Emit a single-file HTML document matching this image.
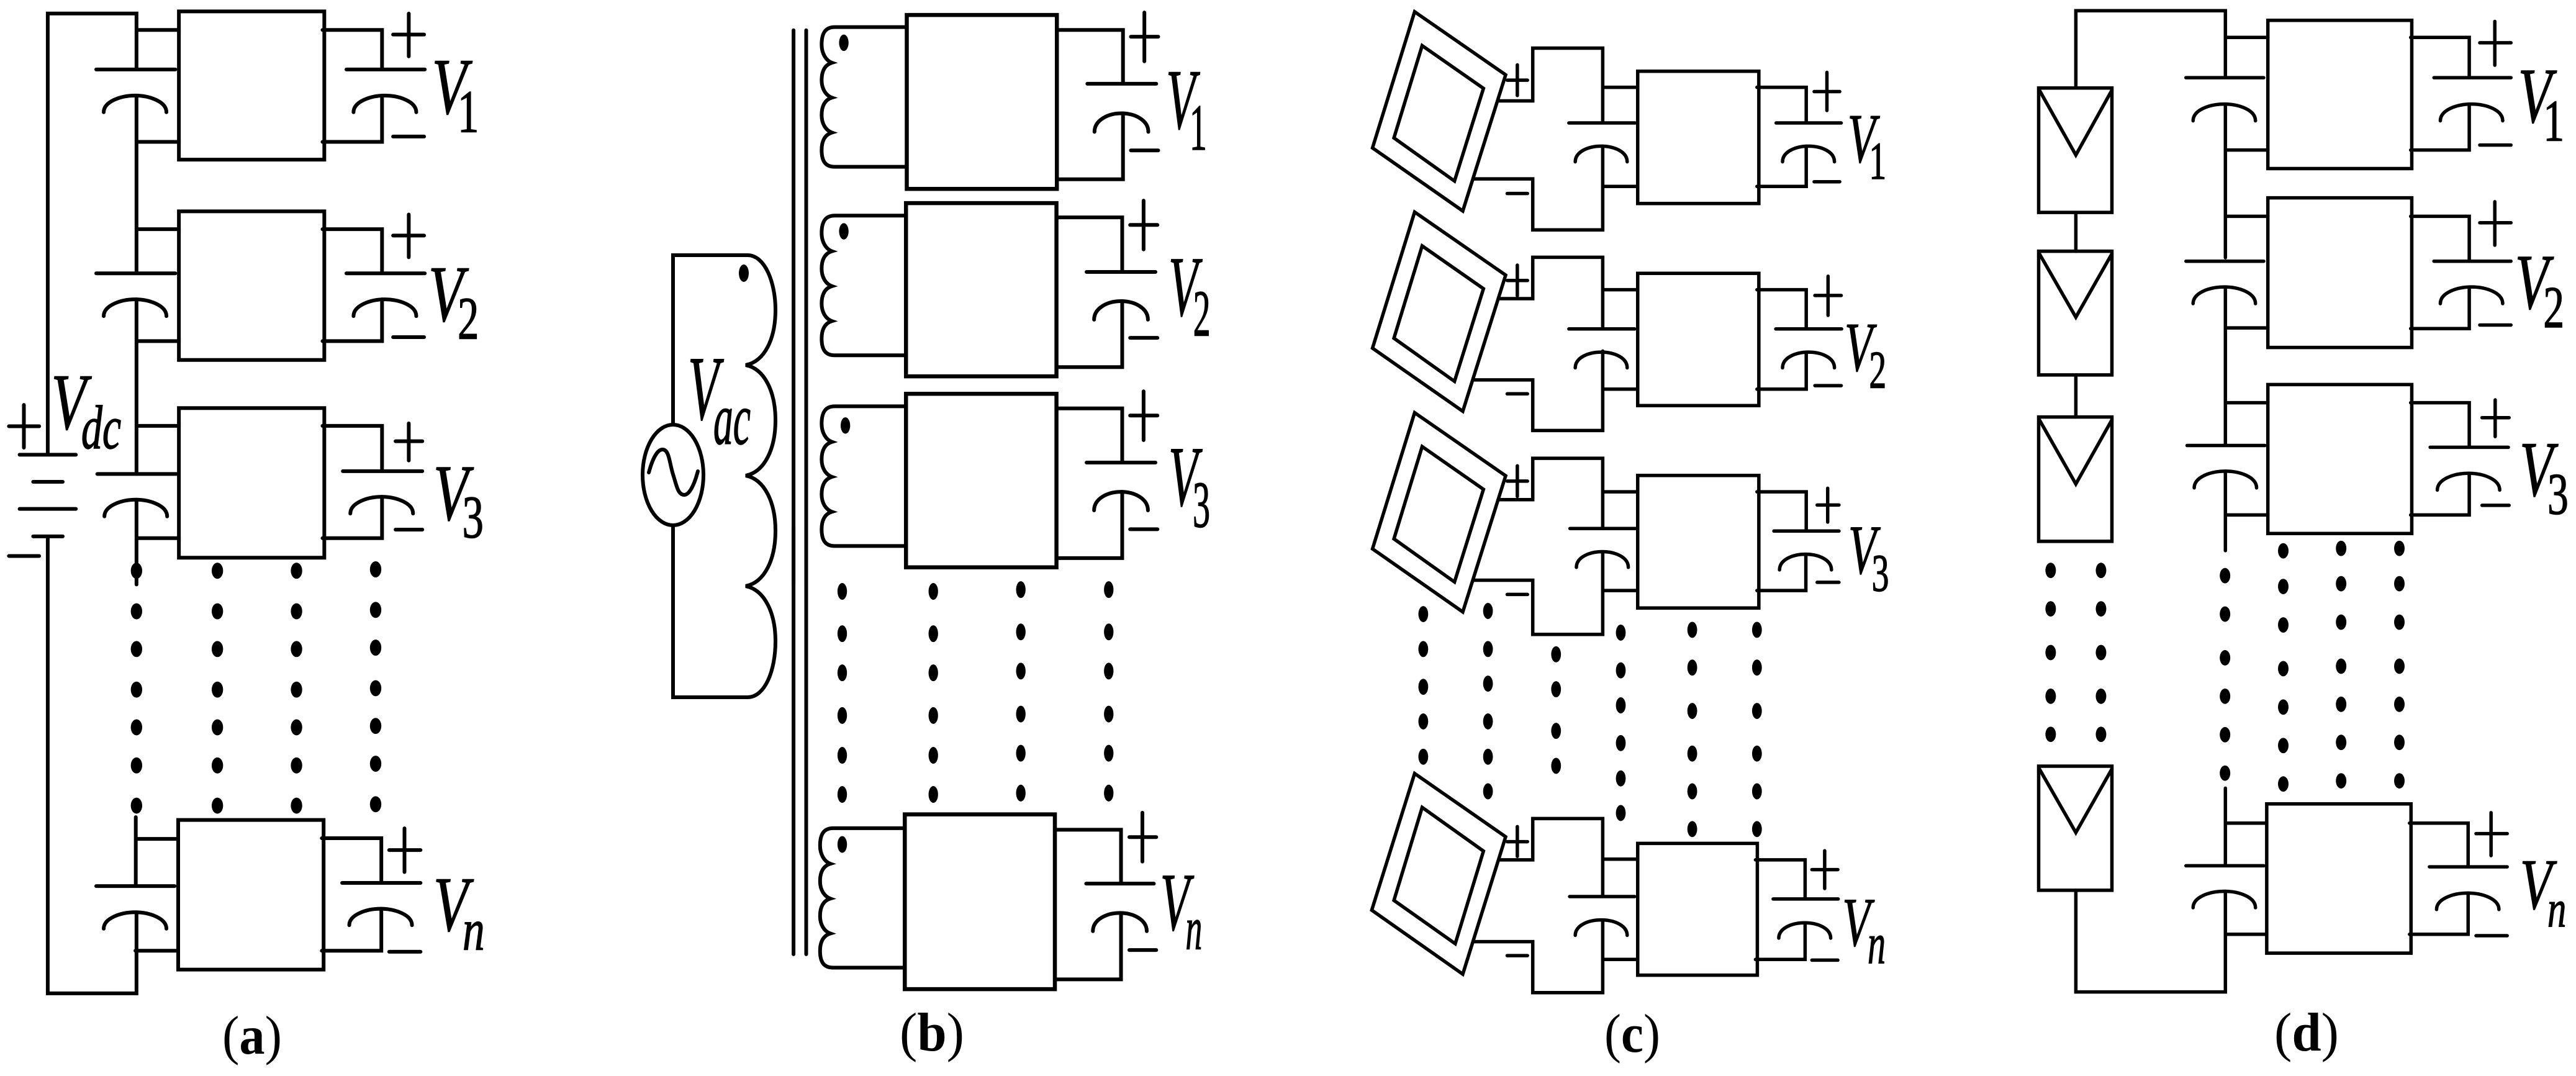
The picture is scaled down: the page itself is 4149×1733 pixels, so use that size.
<!DOCTYPE html>
<html><head><meta charset="utf-8"><style>
html,body{margin:0;padding:0;background:#fff}
svg{display:block}
path,rect,polygon{vector-effect:non-scaling-stroke;fill:none;stroke:#000;stroke-linecap:round}
ellipse.d{fill:#000;stroke:none}
text{fill:#000;stroke:#000;stroke-width:2.5;font-family:"Liberation Serif",serif}
text.c{stroke:none}
.i{font-style:italic}
.b{font-weight:bold}
</style></head><body>
<svg xmlns="http://www.w3.org/2000/svg" width="4149" height="1733" viewBox="0 0 4149 1733">
<defs>
<path id="aa" d="M-88 47C-88 17-40 0 0 0C40 0 88 17 88 47"/>
<path id="ab" d="M-68 52C-68 20-35 0 0 0C35 0 68 20 68 52"/>
<path id="ac" d="M-69 44C-69 16-35 0 0 0C35 0 69 16 69 44"/>
<path id="ad" d="M-83 47C-83 17-40 0 0 0C40 0 83 17 83 47"/>
<ellipse id="da" class="d" rx="16" ry="23"/>
<ellipse id="db" class="d" rx="12" ry="24"/>
<ellipse id="dc" class="d" rx="13" ry="23"/>
<ellipse id="dd" class="d" rx="14" ry="22"/>
<path id="coil" d="M720 76H540C515 76 507 95 507 125C507 150 518 170 533 176C515 182 507 200 507 225C507 250 518 268 533 274C515 280 507 298 507 323C507 348 518 366 533 372C515 378 507 396 507 421C507 450 515 468 540 468H720"/>
<polygon id="pvo" points="212,33 454,210 340,592 100,415"/>
<polygon id="pvi" points="232,128 395,248 318,508 157,387"/>
</defs>
<rect width="4149" height="1733" style="fill:#fff;stroke:none"/>

<!-- PANEL A -->
<g stroke-width="6" transform="matrix(.574 0 0 .574 0 0)">
<rect x="502" y="32" width="408" height="416"/>
<rect x="502" y="593" width="408" height="417"/>
<rect x="502" y="1145" width="408" height="420"/>
<path d="M134 1270V38H383V190M270 195H492M383 268V762M383 84H502M383 398H502M383 643H502M383 957H502M270 767H492M383 840V1325M383 1195H502M383 1510H502M273 1330H495M383 1402V1640"/>
<path d="M905 84H1072V190M972 195H1192M1072 268V398H905M905 643H1072V767M972 767H1192M1072 840V957H905M905 1195H1072V1322M962 1322H1185M1072 1394V1510H905"/>
<path d="M1103 97H1190M1147 38V158M1103 383H1190M1103 661H1190M1147 602V722M1103 946H1190M1110 1238H1185M1147 1188V1292M1110 1486H1185"/>
<path d="M55 1276H213M93 1352H176M55 1428H213M93 1505H176M25 1196H110M67 1136V1256M25 1560H110"/>
<use href="#aa" x="379" y="268"/><use href="#aa" x="379" y="840"/><use href="#aa" x="381" y="1402"/>
<use href="#aa" x="1080" y="268"/><use href="#aa" x="1080" y="840"/><use href="#aa" x="1071" y="1394"/>
<text class="i" x="1212" y="318" font-size="223" textLength="98" lengthAdjust="spacingAndGlyphs">V</text>
<text x="1284" y="370" font-size="170" textLength="60" lengthAdjust="spacingAndGlyphs">1</text>
<text class="i" x="1202" y="900" font-size="223" textLength="98" lengthAdjust="spacingAndGlyphs">V</text>
<text x="1284" y="950" font-size="170" textLength="60" lengthAdjust="spacingAndGlyphs">2</text>
<text class="i" x="1216" y="1458" font-size="223" textLength="98" lengthAdjust="spacingAndGlyphs">V</text>
<text x="1297" y="1508" font-size="170" textLength="60" lengthAdjust="spacingAndGlyphs">3</text>
<text class="i" x="144" y="1203" font-size="223" textLength="98" lengthAdjust="spacingAndGlyphs">V</text>
<text class="i" x="228" y="1258" font-size="173" textLength="112" lengthAdjust="spacingAndGlyphs">dc</text>
</g>
<g stroke-width="6" transform="matrix(.574 0 0 .563 0 850)">
<rect x="500" y="836" width="408" height="428"/>
<path d="M134 30V1332H383V1100M381 828V1020M381 890H500M270 1025H490M380 1210H500M903 888H1070V1010M960 1016H1180M1070 1090V1210H903M1092 922H1180M1135 860V985M1092 1213H1180"/>
<use href="#aa" x="379" y="1100"/><use href="#aa" x="1068" y="1090"/>
<use href="#da" x="383" y="123"/><use href="#da" x="383" y="239"/><use href="#da" x="383" y="347"/><use href="#da" x="383" y="463"/><use href="#da" x="383" y="571"/><use href="#da" x="383" y="680"/><use href="#da" x="383" y="795"/>
<use href="#da" x="610" y="123"/><use href="#da" x="610" y="239"/><use href="#da" x="610" y="347"/><use href="#da" x="610" y="463"/><use href="#da" x="610" y="571"/><use href="#da" x="610" y="680"/><use href="#da" x="610" y="795"/>
<use href="#da" x="832" y="123"/><use href="#da" x="832" y="239"/><use href="#da" x="832" y="347"/><use href="#da" x="832" y="463"/><use href="#da" x="832" y="571"/><use href="#da" x="832" y="680"/><use href="#da" x="832" y="795"/>
<use href="#da" x="1054" y="119"/><use href="#da" x="1054" y="235"/><use href="#da" x="1054" y="343"/><use href="#da" x="1054" y="459"/><use href="#da" x="1054" y="567"/><use href="#da" x="1054" y="675"/><use href="#da" x="1054" y="791"/>
<text class="i" x="1216" y="1152" font-size="223" textLength="98" lengthAdjust="spacingAndGlyphs">V</text>
<text class="i" x="1298" y="1207" font-size="170" textLength="62" lengthAdjust="spacingAndGlyphs">n</text>
</g>

<!-- PANEL B -->
<g stroke-width="6" transform="matrix(.6378 0 0 .574 1000 0)">
<path d="M436 85V1640M468 85V1640"/>
<rect x="722" y="42" width="379" height="488" stroke-width="6.5"/>
<rect x="720" y="570" width="380" height="486" stroke-width="6.5"/>
<rect x="720" y="1105" width="380" height="487" stroke-width="6.5"/>
<use href="#coil"/><use href="#coil" y="529"/><use href="#coil" y="1064"/>
<path d="M1101 84H1268V235M1178 235H1352M1268 318V503H1101M1100 610H1266V763M1176 763H1350M1266 845V1030H1100M1100 1146H1266V1298M1176 1298H1350M1266 1380V1566H1100"/>
<path d="M1288 103H1357M1322 35V172M1288 422H1357M1286 631H1355M1320 563V700M1286 948H1355M1286 1166H1355M1320 1098V1235M1286 1485H1355"/>
<use href="#ab" x="1264" y="318"/><use href="#ab" x="1263" y="845"/><use href="#ab" x="1263" y="1380"/>
<ellipse class="d" cx="563" cy="120" rx="12" ry="23"/><ellipse class="d" cx="563" cy="649" rx="12" ry="23"/><ellipse class="d" cx="567" cy="1194" rx="12" ry="23"/>
<text class="i" x="1377" y="360" font-size="240" textLength="74" lengthAdjust="spacingAndGlyphs">V</text>
<text x="1436" y="420" font-size="185" textLength="44" lengthAdjust="spacingAndGlyphs">1</text>
<text class="i" x="1383" y="885" font-size="240" textLength="74" lengthAdjust="spacingAndGlyphs">V</text>
<text x="1445" y="942" font-size="185" textLength="44" lengthAdjust="spacingAndGlyphs">2</text>
<text class="i" x="1383" y="1418" font-size="240" textLength="74" lengthAdjust="spacingAndGlyphs">V</text>
<text x="1444" y="1478" font-size="185" textLength="44" lengthAdjust="spacingAndGlyphs">3</text>
</g>
<g stroke-width="6" transform="matrix(.6378 0 0 .563 1000 850)">
<rect x="717" y="820" width="379" height="500" stroke-width="6.5"/>
<use href="#coil" transform="translate(-4 782) scale(1 1.018)"/>
<path d="M436 0V1220M468 0V1220"/>
<path d="M1098 864H1263V1015M1175 1018H1346M1263 1102V1292H1098M1284 885H1352M1317 815V955M1284 1208H1352"/>
<use href="#ab" x="1260" y="1102"/>
<ellipse class="d" cx="559" cy="906" rx="12" ry="24"/>
<use href="#db" x="559" y="182"/><use href="#db" x="559" y="303"/><use href="#db" x="559" y="415"/><use href="#db" x="559" y="537"/><use href="#db" x="559" y="651"/><use href="#db" x="559" y="763"/>
<use href="#db" x="789" y="182"/><use href="#db" x="789" y="303"/><use href="#db" x="789" y="415"/><use href="#db" x="789" y="537"/><use href="#db" x="789" y="651"/><use href="#db" x="789" y="763"/>
<use href="#db" x="1010" y="177"/><use href="#db" x="1010" y="298"/><use href="#db" x="1010" y="410"/><use href="#db" x="1010" y="533"/><use href="#db" x="1010" y="645"/><use href="#db" x="1010" y="759"/>
<use href="#db" x="1232" y="177"/><use href="#db" x="1232" y="298"/><use href="#db" x="1232" y="410"/><use href="#db" x="1232" y="533"/><use href="#db" x="1232" y="645"/><use href="#db" x="1232" y="759"/>
<text class="i" x="1362" y="1150" font-size="235" textLength="74" lengthAdjust="spacingAndGlyphs">V</text>
<text class="i" x="1426" y="1205" font-size="175" textLength="42" lengthAdjust="spacingAndGlyphs">n</text>
</g>
<g stroke-width="6">
<path d="M1084 684V411H1204C1232 411 1249 455 1249 499C1249 545 1232 582 1201 588C1232 594 1249 632 1249 677C1249 722 1232 760 1201 766C1232 772 1249 810 1249 855C1249 900 1232 938 1201 944C1232 950 1249 988 1249 1033C1249 1080 1232 1123 1204 1123H1084V847"/>
<ellipse cx="1084" cy="765" rx="49" ry="81" style="fill:none;stroke:#000"/>
<path d="M1045 761C1052 735 1060 724 1067 724C1078 724 1078 745 1084 764C1090 783 1092 797 1102 797C1110 797 1118 782 1124 759"/>
<ellipse class="d" cx="1198" cy="440" rx="8" ry="14"/>
<text class="i" font-size="147" x="1108" y="675" textLength="50" lengthAdjust="spacingAndGlyphs" style="stroke-width:1.5">V</text>
<text class="i" font-size="120" x="1149" y="715" textLength="60" lengthAdjust="spacingAndGlyphs" style="stroke-width:1.5">ac</text>
</g>

<!-- PANEL C -->
<g stroke-width="5.5" transform="matrix(.6059 0 0 .574 2150 0)">
<use href="#pvo"/><use href="#pvi"/><use href="#pvo" y="562"/><use href="#pvi" y="562"/><use href="#pvo" y="1125"/><use href="#pvi" y="1125"/>
<rect x="805" y="200" width="322" height="371"/>
<rect x="805" y="767" width="322" height="371"/>
<rect x="805" y="1334" width="322" height="372"/>
<path d="M434 283H526V135H712V340M622 345H798M712 410V645H526V502H370M712 245H805M712 523H805"/>
<path d="M436 838H526V722H712V918M622 923H797M712 985V1208H526V1066H370M712 813H805M712 1092H805"/>
<path d="M436 1402H526V1286H712V1480M625 1483H800M712 1380H805M712 1550V1780H526V1628H370M712 1657H805"/>
<path d="M1122 245H1253V340M1173 345H1346M1253 410V523H1122M1122 813H1253V918M1172 923H1347M1253 988V1092H1122M1122 1380H1253V1485M1167 1490H1340M1252 1555V1657H1122"/>
<path d="M1274 257H1342M1308 203V310M1274 510H1342M458 225H512M485 182V268M458 543H512M1276 829H1346M1311 775V885M1276 1082H1346M458 787H512M485 744V830M458 1105H512M1282 1417H1340M1310 1370V1465M1282 1634H1340M458 1350H512M485 1307V1393M458 1668H512"/>
<use href="#ac" x="708" y="410"/><use href="#ac" x="1259" y="410"/><use href="#ac" x="708" y="988"/><use href="#ac" x="1259" y="988"/><use href="#ac" x="711" y="1548"/><use href="#ac" x="1251" y="1555"/>
<text class="i" x="1363" y="455" font-size="195" textLength="74" lengthAdjust="spacingAndGlyphs">V</text>
<text x="1420" y="502" font-size="150" textLength="46" lengthAdjust="spacingAndGlyphs">1</text>
<text class="i" x="1355" y="1040" font-size="195" textLength="74" lengthAdjust="spacingAndGlyphs">V</text>
<text x="1420" y="1088" font-size="150" textLength="46" lengthAdjust="spacingAndGlyphs">2</text>
<text class="i" x="1365" y="1609" font-size="195" textLength="74" lengthAdjust="spacingAndGlyphs">V</text>
<text x="1427" y="1658" font-size="150" textLength="46" lengthAdjust="spacingAndGlyphs">3</text>
</g>
<g stroke-width="5.5" transform="matrix(.6059 0 0 .563 2150 850)">
<polygon points="212,703 454,884 340,1277 98,1094"/>
<polygon points="232,800 395,925 320,1190 157,1066"/>
<rect x="805" y="903" width="318" height="377"/>
<path d="M436 950H526V832H712V1050M624 1055H797M712 1122V1330H526V1184H370M712 948H805M712 1235H805M1118 950H1250V1058M1165 1062H1338M1250 1130V1235H1118M1268 978H1337M1302 924V1032M1268 1237H1337M458 898H512M485 855V940M458 1224H512"/>
<use href="#ac" x="708" y="1122"/><use href="#ac" x="1249" y="1130"/>
<use href="#dc" x="235" y="247"/><use href="#dc" x="235" y="347"/><use href="#dc" x="235" y="455"/><use href="#dc" x="235" y="554"/><use href="#dc" x="235" y="655"/>
<use href="#dc" x="407" y="238"/><use href="#dc" x="407" y="347"/><use href="#dc" x="407" y="446"/><use href="#dc" x="407" y="554"/><use href="#dc" x="407" y="655"/><use href="#dc" x="407" y="754"/>
<use href="#dc" x="588" y="362"/><use href="#dc" x="588" y="462"/><use href="#dc" x="588" y="581"/><use href="#dc" x="588" y="681"/>
<use href="#dc" x="760" y="300"/><use href="#dc" x="760" y="408"/><use href="#dc" x="760" y="508"/><use href="#dc" x="760" y="616"/><use href="#dc" x="760" y="717"/><use href="#dc" x="760" y="816"/>
<use href="#dc" x="950" y="292"/><use href="#dc" x="950" y="400"/><use href="#dc" x="950" y="524"/><use href="#dc" x="950" y="646"/><use href="#dc" x="950" y="754"/><use href="#dc" x="950" y="862"/>
<use href="#dc" x="1122" y="292"/><use href="#dc" x="1122" y="400"/><use href="#dc" x="1122" y="524"/><use href="#dc" x="1122" y="646"/><use href="#dc" x="1122" y="754"/><use href="#dc" x="1122" y="862"/>
<text class="i" x="1349" y="1195" font-size="198" textLength="74" lengthAdjust="spacingAndGlyphs">V</text>
<text class="i" x="1416" y="1245" font-size="165" textLength="48" lengthAdjust="spacingAndGlyphs">n</text>
</g>

<!-- PANEL D -->
<g stroke-width="5.5" transform="matrix(.6052 0 0 .574 3200 0)">
<rect x="748" y="57" width="383" height="416"/>
<rect x="748" y="555" width="383" height="420"/>
<rect x="748" y="1079" width="383" height="418"/>
<rect x="138" y="247" width="195" height="349"/>
<rect x="138" y="705" width="195" height="347"/>
<rect x="138" y="1170" width="195" height="349"/>
<path d="M140 253L237 435L333 253M140 712L237 890L333 712M140 1178L237 1358L333 1178M237 596V705M237 1052V1170"/>
<path d="M237 245V30H635V212M635 105H748M530 218H737M635 292V723M635 421H748M635 607H748M530 733H737M635 805V1245M635 920H748M635 1130H748M533 1250H740M635 1322V1545M635 1445H748"/>
<path d="M1128 105H1284V212M1190 218H1395M1284 292V421H1128M1128 607H1284V728M1190 733H1395M1284 805V922H1128M1128 1130H1284V1250M1180 1255H1388M1284 1328V1445H1128"/>
<path d="M1312 120H1395M1352 60V183M1312 407H1395M1312 625H1395M1352 566V688M1312 912H1395M1318 1172H1390M1353 1122V1225M1318 1418H1390"/>
<use href="#ad" x="632" y="292"/><use href="#ad" x="1290" y="292"/><use href="#ad" x="632" y="805"/><use href="#ad" x="1290" y="805"/><use href="#ad" x="635" y="1322"/><use href="#ad" x="1282" y="1328"/>
<text class="i" x="1414" y="342" font-size="220" textLength="89" lengthAdjust="spacingAndGlyphs">V</text>
<text x="1481" y="395" font-size="167" textLength="56" lengthAdjust="spacingAndGlyphs">1</text>
<text class="i" x="1406" y="865" font-size="220" textLength="89" lengthAdjust="spacingAndGlyphs">V</text>
<text x="1481" y="918" font-size="167" textLength="56" lengthAdjust="spacingAndGlyphs">2</text>
<text class="i" x="1418" y="1390" font-size="220" textLength="89" lengthAdjust="spacingAndGlyphs">V</text>
<text x="1492" y="1442" font-size="167" textLength="56" lengthAdjust="spacingAndGlyphs">3</text>
</g>
<g stroke-width="5.5" transform="matrix(.6052 0 0 .563 3200 850)">
<rect x="745" y="790" width="384" height="427"/>
<rect x="138" y="682" width="195" height="355"/>
<path d="M140 690L237 872L333 690M237 1037V1328H635V1040M635 745V962M635 845H745M530 967H737M635 1163H745M1125 845H1281V965M1178 970H1385M1281 1045V1163H1125M1302 875H1385M1342 815V938M1302 1167H1385"/>
<use href="#ad" x="632" y="1040"/><use href="#ad" x="1280" y="1045"/>
<use href="#dd" x="170" y="122"/><use href="#dd" x="170" y="232"/><use href="#dd" x="170" y="357"/><use href="#dd" x="170" y="482"/><use href="#dd" x="170" y="591"/>
<use href="#dd" x="304" y="122"/><use href="#dd" x="304" y="232"/><use href="#dd" x="304" y="357"/><use href="#dd" x="304" y="482"/><use href="#dd" x="304" y="591"/>
<use href="#dd" x="634" y="137"/><use href="#dd" x="634" y="247"/><use href="#dd" x="634" y="372"/><use href="#dd" x="634" y="482"/><use href="#dd" x="634" y="592"/><use href="#dd" x="634" y="702"/>
<use href="#dd" x="789" y="66"/><use href="#dd" x="789" y="168"/><use href="#dd" x="789" y="278"/><use href="#dd" x="789" y="403"/><use href="#dd" x="789" y="513"/><use href="#dd" x="789" y="623"/><use href="#dd" x="789" y="733"/>
<use href="#dd" x="943" y="59"/><use href="#dd" x="943" y="160"/><use href="#dd" x="943" y="270"/><use href="#dd" x="943" y="396"/><use href="#dd" x="943" y="505"/><use href="#dd" x="943" y="614"/><use href="#dd" x="943" y="724"/>
<use href="#dd" x="1098" y="59"/><use href="#dd" x="1098" y="160"/><use href="#dd" x="1098" y="270"/><use href="#dd" x="1098" y="396"/><use href="#dd" x="1098" y="505"/><use href="#dd" x="1098" y="614"/><use href="#dd" x="1098" y="724"/>
<text class="i" x="1419" y="1090" font-size="205" textLength="85" lengthAdjust="spacingAndGlyphs">V</text>
<text class="i" x="1492" y="1140" font-size="150" textLength="50" lengthAdjust="spacingAndGlyphs">n</text>
</g>

<!-- CAPTIONS -->
<text class="c" x="406" y="1697" font-size="88" text-anchor="middle" textLength="96" lengthAdjust="spacingAndGlyphs">(<tspan class="b">a</tspan>)</text>
<text class="c" x="1501" y="1692" font-size="88" text-anchor="middle" textLength="104" lengthAdjust="spacingAndGlyphs">(<tspan class="b">b</tspan>)</text>
<text class="c" x="2629" y="1694" font-size="88" text-anchor="middle" textLength="90" lengthAdjust="spacingAndGlyphs">(<tspan class="b">c</tspan>)</text>
<text class="c" x="3715" y="1692" font-size="88" text-anchor="middle" textLength="104" lengthAdjust="spacingAndGlyphs">(<tspan class="b">d</tspan>)</text>
</svg>
</body></html>
